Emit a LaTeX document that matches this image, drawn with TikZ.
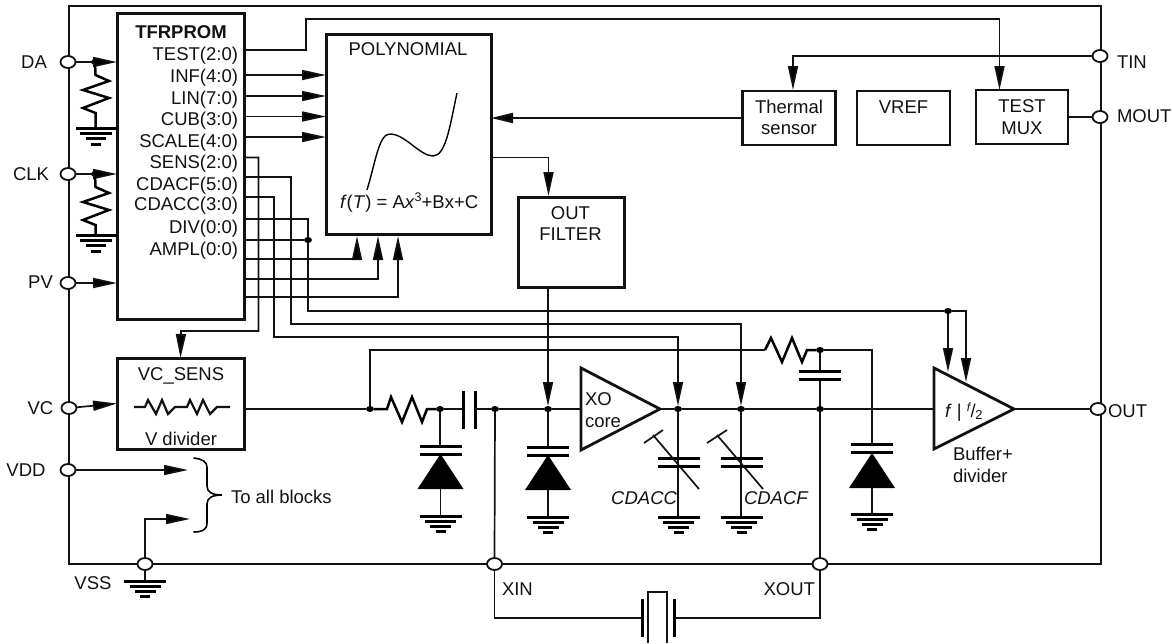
\documentclass[tikz,border=0pt]{standalone}
\usepackage{fontspec}
\setmainfont{Liberation Sans}
\usetikzlibrary{arrows.meta,shapes.geometric}
\definecolor{ink}{gray}{0.07}
\tikzset{
  wire/.style={draw=ink,line width=1.7pt},
  zig/.style={draw=black,line width=2.5pt,line join=miter},
  arw/.style={wire,-{Triangle[length=24pt,width=10pt,fill=black]}},
  blockbox/.style={draw=ink,line width=3pt,fill=white,inner sep=0pt,outer sep=0pt},
  smallbox/.style={draw=ink,line width=2.8pt,fill=white,inner sep=0pt,outer sep=0pt},
  port/.style={ellipse,draw=ink,line width=1.8pt,fill=white,minimum width=15pt,minimum height=12pt,inner sep=0pt,outer sep=0pt},
  jdot/.style={ellipse,fill=black,minimum width=8pt,minimum height=6pt,inner sep=0pt,outer sep=0pt},
  lbl/.style={inner sep=0pt,outer sep=0pt,text=ink,font=\fontsize{18.5}{21}\selectfont},
  ampbox/.style={draw=ink,line width=2.8pt,line join=miter},
  plate/.style={draw=black,line width=3pt},
  gnd/.pic={
    \draw[plate] (-21,0)--(21,0);
    \draw[plate] (-15.5,5.5)--(15.5,5.5);
    \draw[plate] (-10.5,10.5)--(10.5,10.5);
    \draw[plate] (-5,15.5)--(5,15.5);
  },
  caph/.pic={
    \draw[plate] (-21,0)--(21,0);
    \draw[plate] (-21,8.5)--(21,8.5);
  },
  diodeup/.pic={
    \fill[black] (0,0)--(23,35)--(-23,35)--cycle;
  }
}
\begin{document}
\begin{tikzpicture}[x=1pt,y=-1pt]
\useasboundingbox (0,0) rectangle (1172,643);
% chip outline
\draw[draw=ink,line width=2.2pt] (69,6) rectangle (1101,564);

% ports
\node[port] (pDA)   at (68,62) {};
\node[port] (pCLK)  at (68,174) {};
\node[port] (pPV)   at (68,283) {};
\node[port] (pVC)   at (69,408) {};
\node[port] (pVDD)  at (68,470) {};
\node[port] (pVSS)  at (145,564) {};
\node[port] (pXIN)  at (494.5,564) {};
\node[port] (pXOUT) at (820,564) {};
\node[port] (pOUT)  at (1098,409) {};
\node[port] (pTIN)  at (1100,56) {};
\node[port] (pMOUT) at (1100,117) {};

% blocks
\node[blockbox,minimum width=127pt,minimum height=306pt] (tf)  at (180.5,166) {};
\node[blockbox,minimum width=165pt,minimum height=200pt] (pol) at (408.5,134) {};
\node[blockbox,minimum width=106pt,minimum height=90pt]  (flt) at (571,242) {};
\node[blockbox,minimum width=127pt,minimum height=91pt]  (vcs) at (180.5,403.5) {};
\node[smallbox,minimum width=93pt,minimum height=54pt] (th)  at (789,118) {};
\node[smallbox,minimum width=93pt,minimum height=54pt] (vr)  at (903.5,118) {};
\node[smallbox,minimum width=92pt,minimum height=54pt] (mux) at (1022,117) {};

% amplifiers
\coordinate (xoA) at (581,368); \coordinate (xoB) at (581,450); \coordinate (xoT) at (660,409);
\coordinate (buA) at (934,368); \coordinate (buB) at (934,449); \coordinate (buT) at (1014,409);
\draw[ampbox] (xoA)--(xoT)--(xoB)--cycle;
\draw[ampbox] (buA)--(buT)--(buB)--cycle;
\coordinate (xoI) at (581,409);
\coordinate (buI) at (934,409);

% junction dots
\node[jdot] (jDA)  at (95,62) {};
\node[jdot] (jCLK) at (95,174) {};
\node[jdot] (jAM)  at (308,240) {};
\node[jdot] (jDV)  at (948,311) {};
\node[jdot] (j1)   at (370,409) {};
\node[jdot] (j2)   at (440,409) {};
\node[jdot] (j3)   at (495,409) {};
\node[jdot] (j4)   at (548,409) {};
\node[jdot] (j5)   at (678,409) {};
\node[jdot] (j6)   at (741,409) {};
\node[jdot] (j7)   at (820,409) {};
\node[jdot] (j8)   at (820,350) {};

% inputs
\coordinate (tfDA) at (117,62);
\coordinate (tfCK) at (117,174);
\coordinate (tfPV) at (117,283);
\draw[arw] (pDA) -- (tfDA);
\draw[arw] (pCLK) -- (tfCK);
\draw[arw] (pPV) -- (tfPV);
\draw[arw] (pVC) -- (vcs.west);
\coordinate (vddE) at (188,470);
\draw[arw] (pVDD) -- (vddE);
\coordinate (vssE) at (190,519);
\draw[arw] (pVSS.north) |- (vssE);

% pull-down resistors
\draw[zig] (jDA) -- (95.5,75) -- (109,81) -- (83,90) -- (109,98) -- (83,108) -- (95.5,113) -- (95.5,128);
\draw[zig] (jCLK) -- (95.5,187) -- (109,193) -- (83,202) -- (109,210) -- (83,220) -- (95.5,225) -- (95.5,235);
\draw[plate] (76,128)--(117,128);
\draw[plate] (80,133.5)--(112,133.5);
\draw[plate] (86,138.5)--(106,138.5);
\draw[plate] (91,144)--(101,144);
\draw[plate] (76,235)--(117,235);
\draw[plate] (80,240.5)--(112,240.5);
\draw[plate] (86,245.5)--(106,245.5);
\draw[plate] (91,251)--(101,251);
% VSS ground
\coordinate (gVSS) at (145,581);
\draw[wire] (pVSS.south) -- (gVSS);
\pic at (gVSS) {gnd};

% TFRPROM outputs into POLYNOMIAL
\foreach \n/\y in {INF/75,LIN/96,CUB/116.5,SCALE/137}{
  \coordinate (o\n) at (244,\y);
  \coordinate (i\n) at (326,\y);
  \draw[arw] (o\n) -- (i\n);
}
\coordinate (oU1) at (244,259); \coordinate (iU1) at (357,236);
\coordinate (oU2) at (244,279); \coordinate (iU2) at (378,236);
\coordinate (oU3) at (244,297); \coordinate (iU3) at (398,236);
\draw[arw] (oU1) -| (iU1);
\draw[arw] (oU2) -| (iU2);
\draw[arw] (oU3) -| (iU3);

% TEST to MUX
\coordinate (oTEST) at (244,50);
\coordinate (muxN) at (999.5,90);
\draw[arw] (oTEST) -- (306,50) -- (306,19) -- (999.5,19) -- (muxN);
% SENS to VC_SENS
\coordinate (oSENS) at (244,157.5);
\draw[arw] (oSENS) -- (258.5,157.5) -- (258.5,331) -- (181,331) -- (vcs.north);
% CDACF
\coordinate (oCF) at (244,177);
\draw[arw] (oCF) -- (291,177) -- (291,324) -- (741,324) -- (j6.north);
% CDACC
\coordinate (oCC) at (244,197);
\draw[arw] (oCC) -- (274,197) -- (274,337) -- (678,337) -- (j5.north);
% DIV / AMPL
\coordinate (oDV) at (244,219);
\coordinate (oAM) at (244,240);
\coordinate (buN1) at (948,372);
\coordinate (buN2) at (966,382);
\draw[wire] (oDV) -- (308,219) -- (jAM) -- (308,311) -- (jDV);
\draw[wire] (oAM) -- (jAM);
\draw[arw] (jDV) -- (buN1);
\draw[arw] (jDV) -- (966,311) -- (buN2);

% sensor, mux, filter
\draw[wire,line width=2.2pt,-{Triangle[length=22pt,width=10pt,fill=black]}] (th.west) -- (pol.east |- th.west);
\coordinate (thN) at (793,90);
\draw[arw] (pTIN.west) -- (793,56) -- (thN);
\draw[wire,line width=2.4pt] (mux.east) -- (pMOUT.west);
\coordinate (polO) at (493,157.5);
\coordinate (fltN) at (548.5,196);
\draw[arw] (polO) -| (fltN);
\draw[arw] (flt.south -| j4) -- (j4.north);

% main signal path
\draw[wire] (vcs.east |- j1) -- (j1);
\draw[zig] (j1) -- (387,409) -- (391,397) -- (402,422) -- (412,397) -- (422,422) -- (427,409) -- (j2);
\coordinate (capL) at (463,409);
\coordinate (capR) at (475,409);
\draw[wire] (j2) -- (capL);
\draw[plate] (463,391)--(463,429);
\draw[plate] (475,391)--(475,429);
\draw[wire] (capR) -- (j3);
\draw[wire] (j3) -- (j4);
\draw[wire] (j4) -- (xoI);
\draw[wire] (xoT) -- (j5);
\draw[wire] (j5) -- (j6);
\draw[wire] (j6) -- (j7);
\draw[wire] (j7) -- (buI);
\draw[wire] (buT) -- (pOUT.west);

% feedback line
\draw[wire] (j1) -- (370,350) -- (765,350);
\draw[zig] (765,350) -- (771,338) -- (782,362) -- (792,338) -- (802,362) -- (807,350) -- (j8);
\draw[wire] (j8) -- (872,350) -- (872,444);
\draw[wire] (j8) -- (820,371);
\draw[wire] (820,380) -- (j7);
\pic at (820,371) {caph};
\draw[wire] (j7) -- (pXOUT.north);
\draw[wire] (j3) -- (pXIN.north);

% crystal
\coordinate (xtL) at (642,618);
\coordinate (xtR) at (674,618);
\draw[wire] (pXIN.south) |- (xtL);
\draw[wire] (pXOUT.south) |- (xtR);
\draw[plate] (642,599)--(642,637);
\draw[plate] (674,599)--(674,637);
\draw[draw=ink,line width=1.8pt] (648,643)--(648,592)--(667,592)--(667,643);

% diode stacks
\draw[wire] (j2) -- (440,446);
\pic at (440.5,446) {caph};
\pic at (440.5,454) {diodeup};
\draw[wire] (440.5,489) -- (440.5,516);
\pic at (440.5,516) {gnd};

\draw[wire] (j4) -- (548,447);
\pic at (548,447) {caph};
\pic at (548,455) {diodeup};
\draw[wire] (548,490) -- (548,517);
\pic at (548,517) {gnd};

\pic at (872,444) {caph};
\pic at (872,453) {diodeup};
\draw[wire] (872,488) -- (872,514);
\pic at (872,514) {gnd};

% variable capacitors
\draw[wire] (j5) -- (678,517);
\pic at (678.5,458) {caph};
\draw[wire] (653,435) -- (699,489);
\draw[wire] (644,443) -- (663,430);
\pic at (678.5,517) {gnd};

\draw[wire] (j6) -- (741,517);
\pic at (741.5,458) {caph};
\draw[wire] (717,435) -- (763,489);
\draw[wire] (707,443) -- (727,430);
\pic at (741.5,517) {gnd};

% resistor divider inside VC_SENS
\draw[wire,line width=2.2pt,line join=miter] (134,407) -- (145,407) -- (148,400) -- (156,414) -- (162,400) -- (168,414) -- (175,407) -- (187,407) -- (190,400) -- (197,414) -- (203,400) -- (210,414) -- (217,407) -- (230,407);

% polynomial curve
\draw[draw=black,line width=1.4pt] (367,190) .. controls (376,160) and (379,134) .. (390,134) .. controls (405,134) and (420,156) .. (433,156) .. controls (446,156) and (450,125) .. (457,93);

% brace
\draw[draw=black,line width=1.6pt] (193.5,458) .. controls (202,459) and (207,461) .. (207,468) -- (207,486) .. controls (207,492) and (212,495) .. (222,495) .. controls (212,495) and (207,498) .. (207,504) -- (207,523) .. controls (207,530) and (202,532) .. (193.5,532);

% pin labels
\node[lbl,anchor=base] (tDA) at (34,68) {DA};
\node[lbl,anchor=base] (tCLK) at (31,180) {CLK};
\node[lbl,anchor=base] (tPV) at (40.5,288) {PV};
\node[lbl,anchor=base] (tVC) at (40.5,414) {VC};
\node[lbl,anchor=base] (tVDD) at (26,476) {VDD};
\node[lbl,anchor=base] (tVSS) at (93,589) {VSS};
\node[lbl,anchor=base west] (tXIN) at (502,595) {XIN};
\node[lbl,anchor=base east] (tXOUT) at (815,595) {XOUT};
\node[lbl,anchor=base west] (tOUT) at (1108,417) {OUT};
\node[lbl,anchor=base west] (tTIN) at (1117,68) {TIN};
\node[lbl,anchor=base west] (tMOUT) at (1117,122) {MOUT};

% TFRPROM labels
\node[lbl,anchor=base,font=\fontsize{18.5}{21}\selectfont\bfseries] (tTF) at (181,38) {TFRPROM};
\foreach \nm/\y/\s in {a/60.7/TEST(2:0),b/82.7/INF(4:0),c/104/LIN(7:0),d/125/CUB(3:0),e/147/SCALE(4:0),f/168.5/SENS(2:0),g/190/CDACF(5:0),h/210.7/CDACC(3:0),i/233/DIV(0:0),j/255/AMPL(0:0)}{
  \node[lbl,anchor=base east] (tf\nm) at (238,\y) {\s};
}

% block labels
\node[lbl,anchor=base] (tPOL) at (408,55) {POLYNOMIAL};
\node[lbl,anchor=base west] (tFX) at (340,208) {\textit{f}(\textit{T}) = A\textit{x}\raisebox{6.5pt}{\fontsize{12.5}{14}\selectfont 3}+Bx+C};
\node[lbl,anchor=base] (tTH1) at (789,113) {Thermal};
\node[lbl,anchor=base] (tTH2) at (789,134) {sensor};
\node[lbl,anchor=base] (tVR) at (903.5,113) {VREF};
\node[lbl,anchor=base] (tMX1) at (1022,112.7) {TEST};
\node[lbl,anchor=base] (tMX2) at (1022,134) {MUX};
\node[lbl,anchor=base] (tFL1) at (570.5,219) {OUT};
\node[lbl,anchor=base] (tFL2) at (570.5,240) {FILTER};
\node[lbl,anchor=base] (tVS1) at (181,380) {VC\_SENS};
\node[lbl,anchor=base] (tVS2) at (181,445) {V divider};
\node[lbl,anchor=base west] (tALL) at (231,503) {To all blocks};
\node[lbl,anchor=base west] (tXO1) at (585,405) {XO};
\node[lbl,anchor=base west] (tXO2) at (585,427) {core};
\node[lbl,anchor=base east,font=\fontsize{18.5}{21}\selectfont\itshape] (tCC) at (677,504) {CDACC};
\node[lbl,anchor=base west,font=\fontsize{18.5}{21}\selectfont\itshape] (tCF) at (744,504) {CDACF};
\node[lbl,anchor=base west] (tB1) at (953,460) {Buffer+};
\node[lbl,anchor=base west] (tB2) at (953,482) {divider};
\node[lbl,anchor=base west] (tDV) at (945,417) {\textit{f} | \raisebox{6pt}{\fontsize{12}{14}\selectfont\textit{f}}\kern-0.5pt/\kern-0.5pt\raisebox{-2pt}{\fontsize{13}{14}\selectfont 2}};
\end{tikzpicture}
\end{document}
